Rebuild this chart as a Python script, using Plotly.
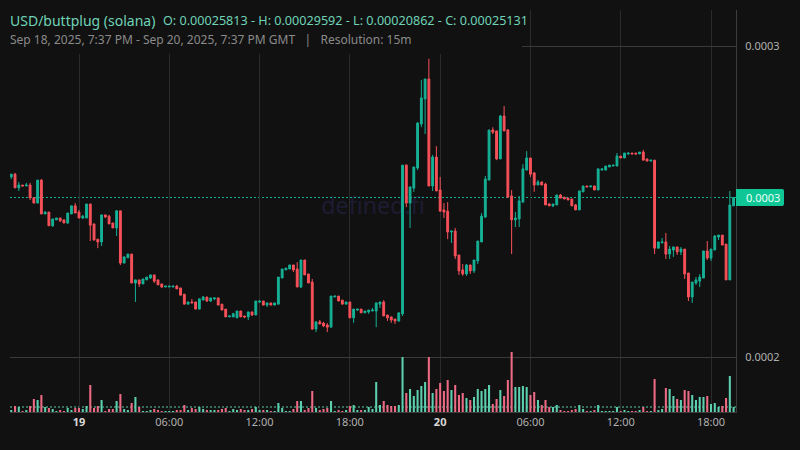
import numpy as np
import pandas as pd
import plotly.graph_objects as go

# prices in millionths of a dollar, one row per 10 candles
opens = [
    257.9, 258.8, 254.4, 255.3, 255.0, 255.3, 251.2, 249.5, 256.9, 246.0,
    246.6, 242.2, 244.1, 244.7, 244.1, 243.1, 246.0, 248.6, 246.6, 244.7,
    244.7, 249.2, 242.8, 237.9, 237.0, 245.7, 245.3, 243.1, 241.5, 247.0,
    230.2, 231.9, 233.1, 223.8, 224.8, 223.5, 224.8, 225.4, 226.4, 224.8,
    223.5, 222.5, 222.5, 222.5, 222.8, 222.2, 220.2, 217.0, 217.7, 217.7,
    215.4, 218.3, 219.3, 218.0, 218.7, 219.0, 217.0, 215.4, 212.9, 212.9,
    212.6, 214.8, 213.2, 212.9, 214.5, 213.5, 217.7, 218.0, 216.7, 217.4,
    216.7, 217.0, 225.4, 228.0, 228.3, 229.6, 228.3, 222.5, 231.2, 226.7,
    224.1, 209.0, 211.3, 210.9, 210.3, 209.6, 219.3, 219.6, 218.3, 217.0,
    217.7, 212.6, 215.1, 215.4, 214.2, 214.5, 214.8, 214.8, 217.0, 217.7,
    213.5, 212.9, 212.2, 211.6, 213.9, 261.7, 249.5, 254.3, 260.8, 274.9,
    283.0, 289.4, 255.0, 264.3, 253.7, 247.3, 246.9, 240.2, 240.5, 232.8,
    228.0, 226.7, 229.6, 227.7, 230.9, 237.0, 245.0, 256.9, 273.0, 272.7,
    263.7, 277.5, 273.0, 251.8, 244.1, 244.4, 249.8, 260.1, 264.0, 259.2,
    255.3, 256.3, 255.6, 249.2, 248.6, 248.9, 252.1, 251.4, 251.1, 250.8,
    248.9, 247.3, 253.1, 255.0, 254.7, 255.0, 253.7, 260.1, 260.1, 261.1,
    261.4, 261.4, 264.6, 264.0, 265.3, 265.6, 265.6, 265.3, 265.9, 263.7,
    263.0, 263.3, 235.0, 236.7, 237.0, 233.1, 234.4, 235.4, 233.8, 234.7,
    227.0, 219.3, 223.8, 224.4, 225.4, 234.1, 231.8, 234.4, 238.6, 239.2,
    236.3, 224.8, 248.6,
]
highs = [
    258.8, 259.2, 256.3, 255.3, 256.0, 256.0, 251.2, 256.9, 257.2, 246.9,
    246.6, 244.4, 244.7, 244.7, 244.1, 246.3, 248.6, 249.5, 247.3, 245.7,
    249.2, 249.2, 242.8, 237.9, 245.7, 245.7, 245.7, 243.1, 247.3, 247.0,
    232.2, 233.1, 233.1, 224.8, 224.8, 225.1, 225.7, 226.4, 226.4, 224.8,
    223.5, 222.8, 222.8, 222.8, 223.2, 222.2, 220.2, 217.7, 218.7, 217.7,
    218.7, 219.6, 219.3, 219.0, 219.0, 219.0, 217.0, 215.4, 213.2, 214.2,
    214.8, 214.8, 213.2, 214.5, 214.5, 218.0, 218.0, 218.0, 217.4, 217.4,
    217.4, 225.7, 228.3, 228.6, 229.6, 229.6, 230.5, 231.2, 231.2, 226.7,
    225.1, 211.3, 211.9, 211.3, 210.9, 219.6, 219.6, 219.6, 218.3, 217.7,
    217.7, 215.4, 215.4, 215.4, 214.8, 215.1, 215.8, 217.4, 217.7, 218.3,
    213.5, 212.9, 212.2, 214.2, 261.7, 262.0, 254.7, 261.1, 275.6, 289.1,
    289.4, 295.9, 265.0, 267.8, 257.9, 249.5, 249.8, 240.5, 241.5, 232.8,
    229.9, 229.9, 229.6, 231.2, 237.3, 246.3, 258.2, 273.0, 273.9, 272.7,
    277.8, 280.7, 273.3, 253.7, 246.6, 251.8, 262.0, 266.2, 264.0, 259.5,
    256.9, 256.3, 256.0, 249.5, 249.2, 252.1, 252.4, 251.4, 251.1, 250.8,
    249.2, 253.4, 255.0, 255.0, 255.0, 255.0, 260.5, 260.5, 261.4, 261.7,
    261.7, 265.6, 264.6, 265.6, 265.6, 265.6, 265.6, 265.9, 266.6, 263.7,
    263.3, 263.3, 237.0, 238.3, 239.9, 235.7, 235.4, 235.4, 235.4, 234.7,
    227.0, 224.1, 225.7, 226.7, 234.1, 237.3, 234.7, 239.2, 239.2, 239.2,
    236.3, 253.4, 251.3,
]
lows = [
    257.2, 254.4, 253.4, 255.0, 255.0, 250.5, 249.5, 249.5, 246.0, 246.0,
    242.2, 241.8, 244.1, 243.4, 243.1, 242.8, 246.0, 246.3, 244.7, 244.4,
    244.7, 237.3, 237.6, 235.0, 235.7, 244.7, 242.8, 241.5, 238.9, 229.6,
    230.2, 231.9, 223.8, 217.7, 222.5, 223.5, 224.8, 225.1, 223.8, 223.2,
    222.2, 222.5, 222.5, 222.5, 221.9, 219.9, 217.0, 217.0, 217.4, 215.4,
    215.4, 218.3, 217.7, 217.7, 218.3, 216.7, 215.1, 212.9, 212.9, 212.9,
    212.6, 212.9, 212.5, 211.9, 213.2, 213.5, 217.4, 216.7, 216.1, 216.7,
    216.7, 217.0, 225.4, 228.0, 228.3, 227.3, 222.5, 222.2, 226.4, 223.8,
    208.7, 208.0, 210.6, 209.6, 208.0, 209.6, 219.3, 218.0, 217.0, 217.0,
    212.6, 211.0, 214.8, 214.2, 214.2, 213.9, 214.8, 209.6, 215.8, 213.2,
    211.6, 211.0, 210.6, 211.3, 213.2, 248.2, 241.5, 253.1, 260.1, 273.9,
    271.7, 255.0, 253.4, 253.4, 246.9, 244.7, 237.9, 236.7, 231.5, 226.4,
    226.1, 226.1, 226.7, 227.0, 229.9, 237.0, 244.7, 256.9, 271.7, 263.3,
    263.7, 272.7, 251.4, 233.1, 241.8, 241.8, 249.8, 260.1, 257.9, 253.1,
    255.3, 255.3, 248.9, 248.6, 248.2, 248.9, 251.1, 250.8, 250.5, 248.6,
    247.3, 247.3, 253.1, 254.7, 254.7, 253.7, 253.7, 260.1, 260.1, 261.1,
    261.4, 261.4, 264.0, 264.0, 265.0, 265.3, 265.0, 265.3, 263.3, 263.0,
    263.0, 233.1, 235.0, 236.7, 231.5, 231.5, 232.2, 232.8, 232.8, 225.1,
    218.0, 217.4, 223.2, 222.5, 225.4, 231.2, 230.9, 234.4, 237.6, 236.0,
    224.8, 224.8, 248.6,
]
closes = [
    258.8, 254.4, 255.3, 255.0, 255.3, 251.2, 249.5, 256.9, 246.0, 246.6,
    242.2, 244.4, 244.7, 243.8, 243.1, 246.3, 248.6, 246.3, 244.7, 245.3,
    249.2, 242.4, 237.6, 237.0, 245.7, 245.0, 242.8, 241.5, 247.0, 230.2,
    232.2, 233.1, 223.8, 224.8, 223.5, 225.1, 225.7, 226.4, 224.4, 223.2,
    222.5, 222.8, 222.8, 222.8, 221.9, 219.9, 217.0, 217.7, 217.4, 215.4,
    218.7, 219.3, 218.0, 219.0, 219.0, 216.7, 215.1, 212.9, 213.2, 213.9,
    214.8, 212.9, 212.9, 214.5, 213.5, 218.0, 218.0, 216.7, 217.4, 216.7,
    217.4, 225.7, 228.3, 228.6, 229.6, 228.0, 222.5, 231.2, 226.4, 223.8,
    209.0, 211.3, 210.6, 210.0, 209.6, 219.6, 219.6, 218.0, 217.0, 217.7,
    212.6, 215.4, 215.4, 214.2, 214.8, 215.1, 215.1, 217.4, 217.7, 213.2,
    212.6, 211.9, 211.6, 214.2, 261.7, 249.5, 254.7, 261.1, 275.2, 283.3,
    289.4, 255.0, 264.3, 253.4, 246.9, 246.6, 240.2, 240.5, 232.5, 227.7,
    226.7, 229.6, 227.7, 231.2, 237.3, 245.3, 257.2, 273.0, 272.3, 263.7,
    277.5, 272.7, 251.4, 244.1, 244.7, 250.2, 260.5, 264.0, 258.8, 255.3,
    256.3, 255.3, 248.9, 248.6, 249.2, 252.1, 251.1, 250.8, 250.5, 248.6,
    247.3, 253.4, 255.0, 254.7, 255.0, 253.7, 260.5, 260.5, 261.4, 261.7,
    261.7, 264.6, 264.0, 265.6, 265.6, 265.3, 265.3, 265.9, 263.3, 263.0,
    263.3, 235.0, 237.0, 237.0, 233.1, 234.7, 235.4, 233.8, 234.7, 226.7,
    219.3, 224.1, 224.8, 225.7, 234.1, 231.8, 234.7, 238.9, 239.2, 236.0,
    224.8, 248.9, 251.3,
]
volumes = [
    2, 6, 5, 1, 2, 6, 13, 12, 17, 5,
    4, 3, 1, 2, 1, 4, 2, 4, 4, 3,
    6, 27, 4, 6, 12, 1, 3, 3, 11, 18,
    3, 2, 9, 15, 5, 1, 1, 2, 3, 2,
    1, 0.5, 0.5, 0.5, 2, 2, 7, 2, 4, 3,
    5, 3, 2, 2, 2, 2, 3, 4, 1, 3,
    2, 3, 2, 2, 3, 5, 2, 2, 2, 1,
    1, 9, 4, 1, 1, 3, 11, 11, 2, 4,
    21, 4, 2, 3, 4, 11, 1, 2, 1, 2,
    6, 7, 2, 2, 2, 5, 3, 30, 7, 11,
    7, 6, 6, 7, 55, 19, 23, 16, 22, 26,
    30, 55, 19, 23, 29, 21, 32, 22, 27, 17,
    19, 14, 12, 15, 23, 21, 23, 27, 8, 13,
    22, 16, 32, 60, 25, 25, 26, 25, 17, 20,
    12, 7, 12, 5, 5, 7, 2, 1, 1, 2,
    3, 7, 3, 1, 1, 2, 7, 1, 1, 1,
    1, 5, 1, 2, 1, 1, 1, 2, 5, 1,
    1, 33, 2, 3, 24, 23, 16, 13, 12, 22,
    21, 17, 12, 15, 15, 16, 8, 9, 5, 6,
    14, 36, 5,
]
first_candle = "2025-09-18 19:30"
price_ticks = [0.0002, 0.0003]
price_labels = ["0.0002", "0.0003"]
time_ticks = ["2025-09-19 00:00", "2025-09-19 06:00", "2025-09-19 12:00", "2025-09-19 18:00",
              "2025-09-20 00:00", "2025-09-20 06:00", "2025-09-20 12:00", "2025-09-20 18:00"]
time_labels = ['<b><span style="color:#d8d8d8">19</span></b>', "06:00", "12:00", "18:00",
               '<b><span style="color:#d8d8d8">20</span></b>', "06:00", "12:00", "18:00"]

bg = "#111111"
up = "#16b196"
down = "#f8515a"
up_vol = "#5ccfae"
down_vol = "#ec6a84"
grid = "#2b2b2b"
font = "Noto Sans"

times = pd.date_range(first_candle, periods=len(opens), freq="15min")
o = np.array(opens) * 1e-6
h = np.array(highs) * 1e-6
l = np.array(lows) * 1e-6
c = np.array(closes) * 1e-6
vol_colors = [up_vol if b >= a else down_vol for a, b in zip(o, c)]

fig = go.Figure()
fig.add_trace(go.Bar(x=times, y=volumes, yaxis="y2", marker=dict(color=vol_colors, line_width=0),
                     hoverinfo="skip"))
fig.add_trace(go.Candlestick(
    x=times, open=o, high=h, low=l, close=c,
    increasing=dict(line=dict(color=up, width=1), fillcolor=up),
    decreasing=dict(line=dict(color=down, width=1), fillcolor=down),
    whiskerwidth=0,
))

# header block hides the grid behind the title, watermark sits under the candles
fig.add_shape(type="rect", xref="paper", yref="paper", x0=0, x1=0.7052, y0=0.8905, y1=1,
              fillcolor=bg, line_width=0, layer="above")
fig.add_shape(type="rect", xref="paper", yref="paper", x0=0.29, x1=0.71, y0=0.46, y1=0.56,
              fillcolor="rgba(0,0,0,0)", line_width=0, layer="below",
              label=dict(text="defined.fi", textposition="middle center",
                         font=dict(family=font, size=23.3, color="#1d1c33")))
fig.add_shape(type="line", xref="paper", yref="y", x0=0, x1=1, y0=c[-1], y1=c[-1],
              line=dict(color=up, width=1, dash="2px,2px"), layer="below")
fig.add_shape(type="line", xref="paper", yref="y2", x0=0, x1=1, y0=volumes[-1], y1=volumes[-1],
              line=dict(color=up_vol, width=1, dash="2px,2px"), layer="below")
# last price tag
fig.add_shape(type="path", xref="paper", yref="y", xsizemode="pixel", ysizemode="pixel",
              xanchor=1, yanchor=c[-1],
              path="M 0 -8.5 L 46 -8.5 Q 48 -8.5 48 -6.5 L 48 6.5 Q 48 8.5 46 8.5 L 0 8.5 Z",
              fillcolor="#0fc796", line_width=0, layer="above")
fig.add_annotation(xref="paper", yref="y", x=1, y=c[-1], xanchor="left", xshift=8, showarrow=False,
                   text="0.0003", font=dict(family=font, size=11, color="#e6fff6"))

fig.add_annotation(xref="paper", yref="paper", x=0, y=0.975, xanchor="left", yanchor="middle",
                   xshift=-2, showarrow=False,
                   text="USD/buttplug (solana)", font=dict(family=font, size=14, color="#6fd3b6"))
fig.add_annotation(xref="paper", yref="paper", x=0.2107, y=0.975, xanchor="left", yanchor="middle",
                   xshift=-2, showarrow=False,
                   text="O: 0.00025813 - H: 0.00029592 - L: 0.00020862 - C: 0.00025131",
                   font=dict(family=font, size=12.6, color="#6fd3b6"))
fig.add_annotation(xref="paper", yref="paper", x=0, y=0.9254, xanchor="left", yanchor="middle",
                   xshift=-2, showarrow=False,
                   text="Sep 18, 2025, 7:37 PM - Sep 20, 2025, 7:37 PM GMT &nbsp; | &nbsp; Resolution: 15m",
                   font=dict(family=font, size=12, color="#8a8a8a"))

fig.update_layout(
    width=800, height=450,
    margin=dict(l=10, r=64, t=10, b=38),
    paper_bgcolor=bg, plot_bgcolor=bg,
    showlegend=False,
    bargap=0.45, boxgap=0.3,
    xaxis=dict(
        range=["2025-09-18 19:24:54", "2025-09-20 19:39:36"],
        rangeslider=dict(visible=False),
        tickmode="array", tickvals=time_ticks, ticktext=time_labels,
        tickfont=dict(family=font, size=11, color="#b0b0b0"),
        showgrid=True, gridcolor=grid, gridwidth=1,
        showline=True, linecolor="#3d3d3d", linewidth=1,
        ticks="", zeroline=False,
    ),
    yaxis=dict(
        range=[0.00018232, 0.00031158], side="right",
        tickmode="array", tickvals=price_ticks, ticktext=price_labels,
        tickfont=dict(family=font, size=11, color="#b0b0b0"),
        ticklabelstandoff=6,
        showgrid=True, gridcolor="#3a3a3a", gridwidth=1,
        showline=True, linecolor="#3d3d3d", linewidth=1,
        ticks="", zeroline=False,
    ),
    yaxis2=dict(range=[0, 402], overlaying="y", side="left", visible=False),
)

fig.write_html("out.html", config=dict(displayModeBar=False),
               post_script="document.body.style.margin='0';document.body.style.background='#111111';")
